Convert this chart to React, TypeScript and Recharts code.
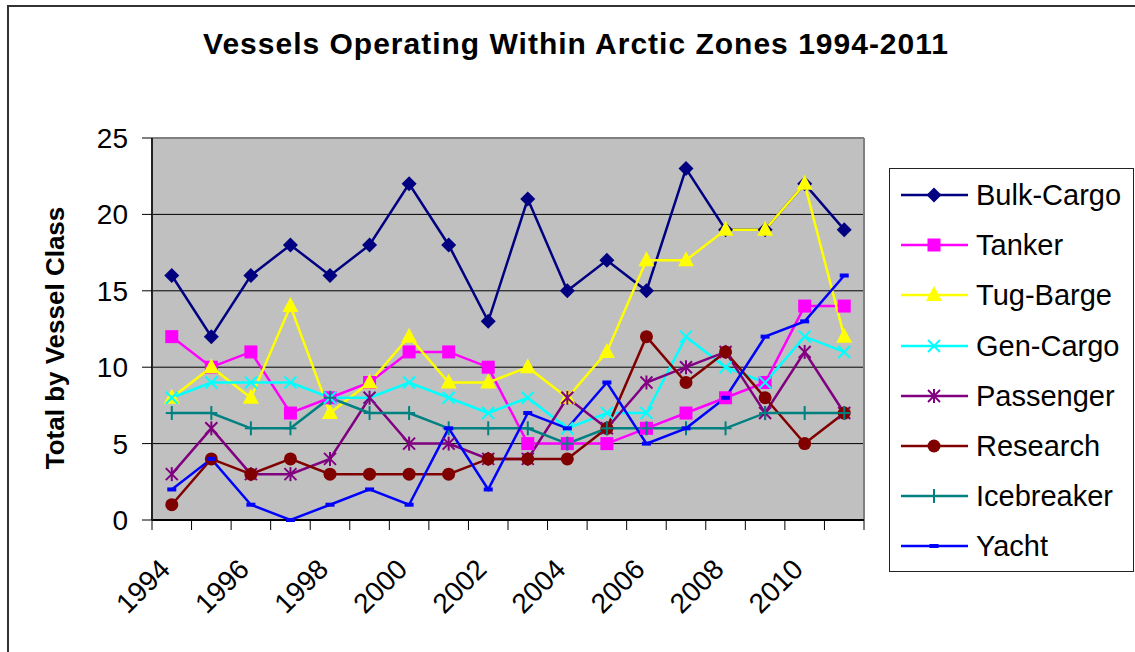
import React from 'react';
import {
  LineChart,
  Line,
  XAxis,
  YAxis,
  CartesianGrid,
  ReferenceLine,
  Legend
} from 'recharts';

const years = [1994, 1995, 1996, 1997, 1998, 1999, 2000, 2001, 2002, 2003, 2004, 2005, 2006, 2007, 2008, 2009, 2010, 2011];
const labelYears = [1994, 1996, 1998, 2000, 2002, 2004, 2006, 2008, 2010];
const yTicks = [0, 5, 10, 15, 20, 25];

const bulkCargo = [16, 12, 16, 18, 16, 18, 22, 18, 13, 21, 15, 17, 15, 23, 19, 19, 22, 19];
const tanker = [12, 10, 11, 7, 8, 9, 11, 11, 10, 5, 5, 5, 6, 7, 8, 9, 14, 14];
const tugBarge = [8, 10, 8, 14, 7, 9, 12, 9, 9, 10, 8, 11, 17, 17, 19, 19, 22, 12];
const genCargo = [8, 9, 9, 9, 8, 8, 9, 8, 7, 8, 6, 7, 7, 12, 10, 9, 12, 11];
const passenger = [3, 6, 3, 3, 4, 8, 5, 5, 4, 4, 8, 6, 9, 10, 11, 7, 11, 7];
const research = [1, 4, 3, 4, 3, 3, 3, 3, 4, 4, 4, 6, 12, 9, 11, 8, 5, 7];
const icebreaker = [7, 7, 6, 6, 8, 7, 7, 6, 6, 6, 5, 6, 6, 6, 6, 7, 7, 7];
const yacht = [2, 4, 1, 0, 1, 2, 1, 6, 2, 7, 6, 9, 5, 6, 8, 12, 13, 16];

const data = years.map((year, i) => ({
  year,
  bulkCargo: bulkCargo[i],
  tanker: tanker[i],
  tugBarge: tugBarge[i],
  genCargo: genCargo[i],
  passenger: passenger[i],
  research: research[i],
  icebreaker: icebreaker[i],
  yacht: yacht[i]
}));

// tick marks sit between the years, like Excel's category axis
const boundaries = [...years.map(y => y - 0.5), years[years.length - 1] + 0.5];

const series = [
  { key: 'bulkCargo', name: 'Bulk-Cargo', color: '#000080', marker: 'diamond' },
  { key: 'tanker', name: 'Tanker', color: '#FF00FF', marker: 'square' },
  { key: 'tugBarge', name: 'Tug-Barge', color: '#FFFF00', marker: 'triangle' },
  { key: 'genCargo', name: 'Gen-Cargo', color: '#00FFFF', marker: 'x' },
  { key: 'passenger', name: 'Passenger', color: '#800080', marker: 'star' },
  { key: 'research', name: 'Research', color: '#800000', marker: 'circle' },
  { key: 'icebreaker', name: 'Icebreaker', color: '#008080', marker: 'plus' },
  { key: 'yacht', name: 'Yacht', color: '#0000FF', marker: 'dash' }
];

const FONT = '"Liberation Sans", Arial, sans-serif';

function Marker({ cx, cy, color, marker }: { cx: number; cy: number; color: string; marker: string }) {
  switch (marker) {
    case 'diamond':
      return <polygon points={`${cx},${cy - 7.5} ${cx + 7.5},${cy} ${cx},${cy + 7.5} ${cx - 7.5},${cy}`} fill={color} />;
    case 'square':
      return <rect x={cx - 6.5} y={cy - 6.5} width={13} height={13} fill={color} />;
    case 'triangle':
      return <polygon points={`${cx},${cy - 9} ${cx + 8},${cy + 6} ${cx - 8},${cy + 6}`} fill={color} />;
    case 'x':
      return (
        <g stroke={color} strokeWidth={2}>
          <line x1={cx - 6} y1={cy - 6} x2={cx + 6} y2={cy + 6} />
          <line x1={cx - 6} y1={cy + 6} x2={cx + 6} y2={cy - 6} />
        </g>
      );
    case 'star':
      return (
        <g stroke={color} strokeWidth={2}>
          <line x1={cx - 6} y1={cy - 6} x2={cx + 6} y2={cy + 6} />
          <line x1={cx - 6} y1={cy + 6} x2={cx + 6} y2={cy - 6} />
          <line x1={cx} y1={cy - 7} x2={cx} y2={cy + 7} />
        </g>
      );
    case 'circle':
      return <circle cx={cx} cy={cy} r={6.5} fill={color} />;
    case 'plus':
      return (
        <g stroke={color} strokeWidth={2}>
          <line x1={cx - 6} y1={cy} x2={cx + 6} y2={cy} />
          <line x1={cx} y1={cy - 7} x2={cx} y2={cy + 7} />
        </g>
      );
    case 'dash':
      return <rect x={cx - 4.5} y={cy - 2} width={9} height={4} fill={color} />;
    default:
      return null;
  }
}

function YearTick({ x, y, payload }: any) {
  return (
    <g transform={`translate(${x},${y})`}>
      <text transform="rotate(-45)" textAnchor="end" fontSize={28} fontFamily={FONT} fill="#000">
        {payload.value}
      </text>
    </g>
  );
}

function YLabel({ viewBox }: any) {
  const cy = viewBox.y + viewBox.height / 2 + 9;
  return (
    <text
      x={64}
      y={cy}
      transform={`rotate(-90, 64, ${cy})`}
      textAnchor="middle"
      fontSize={26}
      fontWeight="bold"
      fontFamily={FONT}
      fill="#000"
    >
      Total by Vessel Class
    </text>
  );
}

function LegendBox() {
  return (
    <div style={{ paddingLeft: 25 }}>
      <div
        style={{
          width: 245,
          height: 404,
          boxSizing: 'border-box',
          border: '1.5px solid #222',
          background: '#fff',
          paddingTop: 1
        }}
      >
        {series.map(s => (
          <div key={s.key} style={{ display: 'flex', alignItems: 'center', height: 50.2 }}>
            <svg width={86} height={50} style={{ flex: 'none' }}>
              <line x1={11} y1={25} x2={78} y2={25} stroke={s.color} strokeWidth={2.5} />
              <Marker cx={44} cy={25} color={s.color} marker={s.marker} />
            </svg>
            <span style={{ fontFamily: FONT, fontSize: 29, color: '#000', lineHeight: '50px' }}>{s.name}</span>
          </div>
        ))}
      </div>
    </div>
  );
}

export default function App() {
  return (
    <div style={{ position: 'absolute', left: 0, top: 0, width: 1135, height: 652, overflow: 'hidden', background: '#fff' }}>
      <div
        style={{
          position: 'absolute',
          left: 7,
          top: 5,
          width: 1300,
          height: 900,
          border: '2px solid #333'
        }}
      />
      <div
        style={{
          position: 'absolute',
          left: 0,
          top: 27,
          width: 1152,
          textAlign: 'center',
          fontFamily: FONT,
          fontWeight: 'bold',
          fontSize: 30,
          letterSpacing: 1,
          color: '#000'
        }}
      >
        Vessels Operating Within Arctic Zones 1994-2011
      </div>
      <div style={{ position: 'absolute', left: 0, top: 0 }}>
        <LineChart width={1135} height={652} data={data} margin={{ top: 138, right: 1, left: 0, bottom: 0 }}>
          <CartesianGrid xAxisId="bnd" vertical={false} fill="#C0C0C0" stroke="#000" strokeOpacity={1} />
          <XAxis
            xAxisId="bnd"
            dataKey="year"
            type="number"
            domain={[1993.5, 2011.5]}
            ticks={boundaries}
            interval={0}
            tick={() => <g />}
            tickSize={10}
            height={12}
            axisLine={{ stroke: '#000', strokeWidth: 2 }}
            tickLine={{ stroke: '#000' }}
          />
          <XAxis
            xAxisId="lbl"
            dataKey="year"
            type="number"
            domain={[1993.5, 2011.5]}
            ticks={labelYears}
            interval={0}
            tick={<YearTick />}
            tickSize={0}
            tickMargin={39}
            height={120}
            axisLine={false}
            tickLine={false}
          />
          <YAxis
            domain={[0, 25]}
            ticks={yTicks}
            width={152}
            tickSize={10}
            tickMargin={14}
            tick={{ fontSize: 28, fontFamily: FONT, fill: '#000' }}
            axisLine={{ stroke: '#222', strokeWidth: 2 }}
            tickLine={{ stroke: '#000' }}
            label={{ content: <YLabel /> }}
          />
          <ReferenceLine xAxisId="bnd" y={25} stroke="#808080" strokeWidth={2} />
          <ReferenceLine xAxisId="bnd" x={2011.5} stroke="#808080" strokeWidth={2} />
          <Legend
            layout="vertical"
            align="right"
            verticalAlign="top"
            wrapperStyle={{ top: 168 }}
            content={() => <LegendBox />}
          />
          {series.map(s => (
            <Line
              key={s.key}
              xAxisId="bnd"
              type="linear"
              dataKey={s.key}
              name={s.name}
              stroke={s.color}
              strokeWidth={2.5}
              isAnimationActive={false}
              activeDot={false}
              dot={(p: any) => <Marker key={`${s.key}-${p.index}`} cx={p.cx} cy={p.cy} color={s.color} marker={s.marker} />}
            />
          ))}
        </LineChart>
      </div>
    </div>
  );
}
